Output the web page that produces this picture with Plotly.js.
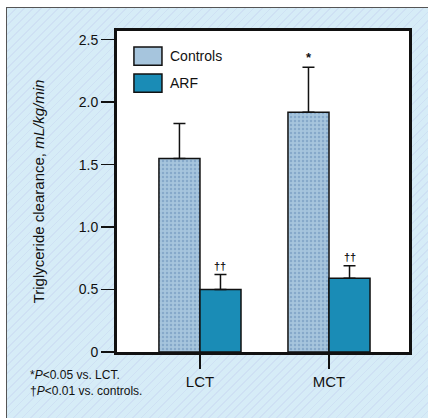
<!DOCTYPE html>
<html>
<head>
<meta charset="utf-8">
<script src="https://cdn.plot.ly/plotly-3.0.1.min.js"></script>
<style>
  html, body { margin: 0; padding: 0; background: #ffffff; width: 428px; height: 418px; overflow: hidden; }
  #frame {
    position: absolute; left: 6px; top: 7px; width: 430px; height: 420px;
    border-left: 1.5px solid #555; border-top: 1.5px solid #555;
    background-color: #d6ecf7;
    background-image: repeating-linear-gradient(135deg, rgba(180,185,232,0.22) 0px, rgba(180,185,232,0.22) 1.2px, transparent 1.2px, transparent 6px);
  }
  #chart { position: absolute; left: 0; top: 0; width: 428px; height: 418px; }
</style>
</head>
<body>
<div id="frame"></div>
<div id="chart"></div>
<script>
const categories = ["LCT", "MCT"];
const seriesNames = ["Controls", "ARF"];
const controls = [1.55, 1.92];
const controlsErr = [0.28, 0.36];
const arf = [0.50, 0.59];
const arfErr = [0.12, 0.10];
const controlsMarks = ["", "*"];
const arfMarks = ["††", "††"];
const yTickVals = [0, 0.5, 1.0, 1.5, 2.0, 2.5];
const yTickText = ["0", "0.5", "1.0", "1.5", "2.0", "2.5"];
const footnotes = ["*<i>P</i>&lt;0.05 vs. LCT.", "†<i>P</i>&lt;0.01 vs. controls."];

const FONT = "Liberation Sans, Arial, sans-serif";
const ctrlColor = "#a6c5dd";
const arfColor = "#1a8cb6";

const traces = [
  {
    type: "bar", name: seriesNames[0], x: categories, y: controls,
    marker: { color: ctrlColor, line: { color: "#111", width: 1.5 },
              pattern: { shape: ".", fgcolor: "#86a9ca", bgcolor: ctrlColor, size: 4, solidity: 0.3 } },
    error_y: { type: "data", symmetric: false, array: controlsErr, arrayminus: [0, 0],
               color: "#111", thickness: 1.5, width: 6 },
    showlegend: false, hoverinfo: "skip"
  },
  {
    type: "bar", name: seriesNames[1], x: categories, y: arf,
    marker: { color: arfColor, line: { color: "#111", width: 1.5 } },
    error_y: { type: "data", symmetric: false, array: arfErr, arrayminus: [0, 0],
               color: "#111", thickness: 1.5, width: 6 },
    showlegend: false, hoverinfo: "skip"
  }
];

const annotations = [];
categories.forEach((c, i) => {
  if (controlsMarks[i]) annotations.push({ x: c, y: controls[i] + controlsErr[i], xref: "x", yref: "y",
    text: "<b>" + controlsMarks[i] + "</b>", showarrow: false, xshift: -20.5, yanchor: "bottom", yshift: 0,
    font: { family: FONT, size: 13, color: "#111" } });
  if (arfMarks[i]) annotations.push({ x: c, y: arf[i] + arfErr[i], xref: "x", yref: "y",
    text: "<b>" + arfMarks[i] + "</b>", showarrow: false, xshift: 20.5, yanchor: "bottom", yshift: 1,
    font: { family: FONT, size: 11, color: "#111" } });
});
// footnotes
footnotes.forEach((t, i) => {
  annotations.push({ xref: "paper", yref: "paper", x: -0.305, y: -0.045 - i * 0.05, xanchor: "left", yanchor: "top",
    text: t, showarrow: false, font: { family: FONT, size: 12, color: "#111" } });
});
// legend
const legendColors = [ctrlColor, arfColor];
const shapes = [];
seriesNames.forEach((n, i) => {
  const y0 = 0.95 - i * 0.084;
  shapes.push({ type: "rect", xref: "paper", yref: "paper", x0: 0.058, x1: 0.154, y0: y0 - 0.057, y1: y0,
    fillcolor: legendColors[i], line: { color: "#111", width: 1.5 } });
  annotations.push({ xref: "paper", yref: "paper", x: 0.175, y: y0 - 0.0285, xanchor: "left", yanchor: "middle",
    text: n, showarrow: false, font: { family: FONT, size: 14, color: "#111" } });
});

const layout = {
  width: 428, height: 418,
  margin: { l: 117, r: 19, t: 31, b: 66 },
  paper_bgcolor: "rgba(0,0,0,0)",
  plot_bgcolor: "#ffffff",
  barmode: "group", bargap: 0.364, bargroupgap: 0,
  showlegend: false,
  font: { family: FONT, color: "#111" },
  xaxis: {
    type: "category", range: [-0.643, 1.62],
    showline: true, linecolor: "#111", linewidth: 3, mirror: true,
    ticks: "outside", ticklen: 14, tickwidth: 1.5, tickcolor: "#111",
    tickfont: { family: FONT, size: 15, color: "#111" },
    showgrid: false, zeroline: false, fixedrange: true
  },
  yaxis: {
    range: [0, 2.57], tickvals: yTickVals, ticktext: yTickText,
    showline: true, linecolor: "#111", linewidth: 3, mirror: true,
    ticks: "outside", ticklen: 13, tickwidth: 1.5, tickcolor: "#111",
    tickfont: { family: FONT, size: 14, color: "#111" },
    showgrid: false, zeroline: false, fixedrange: true,
    title: { text: "Triglyceride clearance, <i>mL/kg/min</i>", font: { family: FONT, size: 15, color: "#111" }, standoff: 31 },
    automargin: false
  },
  shapes: shapes,
  annotations: annotations
};

Plotly.newPlot("chart", traces, layout, { displayModeBar: false, staticPlot: true });
</script>
</body>
</html>
